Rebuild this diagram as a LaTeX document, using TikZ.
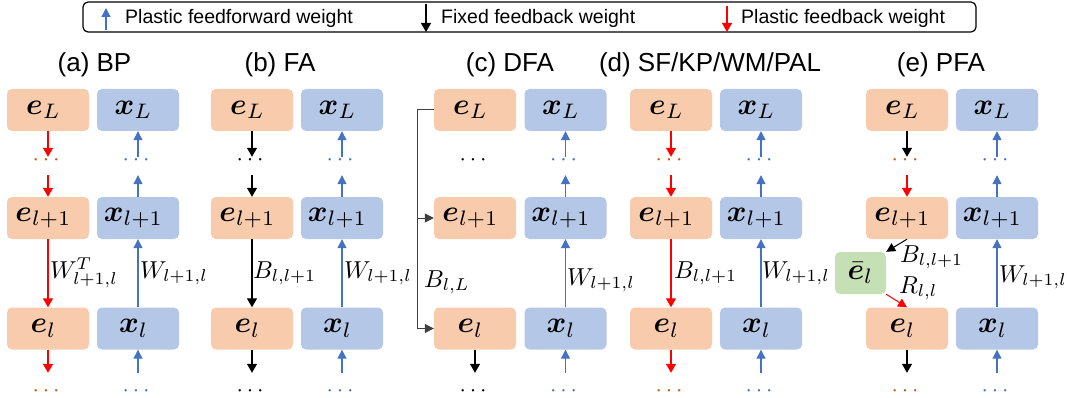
\documentclass[tikz,border=0pt]{standalone}
\usepackage{amsmath}
\usepackage{bm}
\usepackage{graphicx}
\usepackage{fontspec}
\newfontfamily\arialfont{Liberation Sans}
\usetikzlibrary{arrows.meta,calc}
\definecolor{eorange}{HTML}{F8CBAD}
\definecolor{xblue}{HTML}{B4C7E7}
\definecolor{ggreen}{HTML}{C5E0B4}
\definecolor{arrowblue}{HTML}{4472C4}
\definecolor{dotorange}{HTML}{C55A11}
\definecolor{dfagray}{HTML}{404040}
\newcommand{\boxlab}[1]{\hspace*{-9pt}\scalebox{3}{$#1$}}
\newcommand{\greenlab}[1]{\scalebox{3}{$#1$}}
\newcommand{\edgelab}[1]{\scalebox{2.45}{$#1$}}
\newcommand{\dotlab}{\scalebox{2.3}{$\cdots$}}
\begin{document}
\begin{tikzpicture}[x=1pt,y=-1pt,
  ebox/.style={rectangle, rounded corners=5pt, fill=eorange, minimum width=82pt, minimum height=42pt, inner sep=0pt},
  xbox/.style={rectangle, rounded corners=5pt, fill=xblue, minimum width=82pt, minimum height=42pt, inner sep=0pt},
  gbox/.style={rectangle, rounded corners=5pt, fill=ggreen, minimum width=51pt, minimum height=42pt, inner sep=0pt},
  topdots/.style={inner sep=0pt, text height=0pt, text depth=0pt, minimum width=20pt, minimum height=18pt},
  botdots/.style={inner sep=0pt, text height=0pt, text depth=0pt, minimum width=20pt, minimum height=47pt},
  lab/.style={anchor=base west, inner sep=0pt},
  ttl/.style={anchor=base, inner sep=0pt, font=\arialfont\fontsize{26pt}{30pt}\selectfont},
  legtxt/.style={anchor=base west, inner sep=0pt, font=\arialfont\fontsize{19.5pt}{22pt}\selectfont},
  ff/.style={draw=arrowblue, line width=1.2pt, -{Triangle[width=9pt,length=9pt]}},
  pfb/.style={draw=red, line width=1.3pt, -{Triangle[width=10pt,length=9pt]}},
  fb/.style={draw=black, line width=1.2pt, -{Triangle[width=10pt,length=9pt]}},
  fbthin/.style={draw=dfagray, line width=1pt, -{Triangle[width=9pt,length=9pt]}},
  pfbthin/.style={draw=red, line width=1pt, -{Triangle[width=9pt,length=9pt]}}
]
\useasboundingbox (0,0) rectangle (1067,398);

% legend
\node[draw=black, line width=1.2pt, rounded corners=5pt, minimum width=893pt, minimum height=30pt, inner sep=0pt] (legend) at (529.5,17) {};
\coordinate (lg1s) at (106,30);
\coordinate (lg1e) at (106,8);
\coordinate (lg2s) at (426,4);
\coordinate (lg2e) at (426,32);
\coordinate (lg3s) at (727,6);
\coordinate (lg3e) at (727,32);
\draw[ff] (lg1s) -- (lg1e);
\draw[fb] (lg2s) -- (lg2e);
\draw[pfb] (lg3s) -- (lg3e);
\node[legtxt] (lt1) at (125,23.5) {Plastic feedforward weight};
\node[legtxt] (lt2) at (441,23.5) {Fixed feedback weight};
\node[legtxt] (lt3) at (741,23.5) {Plastic feedback weight};

% titles
\node[ttl] (ta) at (94.5,71.5) {(a) BP};
\node[ttl] (tb) at (280,71.5) {(b) FA};
\node[ttl] (tc) at (510,71.5) {(c) DFA};
\node[ttl] (td) at (710,71.5) {(d) SF/KP/WM/PAL};
\node[ttl] (te) at (941,71.5) {(e) PFA};

% columns
\foreach \p/\ex/\xx/\dc in {a/48/138/dotorange, b/252/342/black, c/475/565.5/black, d/671/761/dotorange, e/907/997/dotorange}{
  \node[ebox] (\p-eL) at (\ex,110) {\boxlab{\bm{e}_L}};
  \node[ebox] (\p-e1) at (\ex,218) {\boxlab{\bm{e}_{l+1}}};
  \node[ebox] (\p-el) at (\ex,328.5) {\boxlab{\bm{e}_l}};
  \node[xbox] (\p-xL) at (\xx,110) {\boxlab{\bm{x}_L}};
  \node[xbox] (\p-x1) at (\xx,218) {\boxlab{\bm{x}_{l+1}}};
  \node[xbox] (\p-xl) at (\xx,328.5) {\boxlab{\bm{x}_l}};
  \node[topdots, text=\dc] (\p-ed) at (\ex,166) {\dotlab};
  \node[botdots, text=\dc] (\p-eb) at (\ex,396.5) {\dotlab};
  \node[topdots, text=arrowblue] (\p-xd) at (\xx,166) {\dotlab};
  \node[botdots, text=arrowblue] (\p-xb) at (\xx,396.5) {\dotlab};
  \draw[ff] (\p-xb) -- (\p-xl);
  \draw[ff] (\p-xl) -- (\p-x1);
  \draw[ff] (\p-x1) -- (\p-xd);
  \draw[ff] (\p-xd) -- (\p-xL);
}

% (a) BP
\draw[pfb] (a-eL) -- (a-ed);
\draw[pfb] (a-ed) -- (a-e1);
\draw[pfb] (a-e1) -- (a-el);
\draw[pfb] (a-el) -- (a-eb);
\node[lab] (a-B) at (50,278) {\edgelab{W^{T}_{l+1,l}}};
\node[lab] (a-W) at (140,278) {\edgelab{W_{l+1,l}}};

% (b) FA
\draw[fb] (b-eL) -- (b-ed);
\draw[fb] (b-ed) -- (b-e1);
\draw[fb] (b-e1) -- (b-el);
\draw[fb] (b-el) -- (b-eb);
\node[lab] (b-B) at (253,278) {\edgelab{B_{l,l+1}}};
\node[lab] (b-W) at (344,278) {\edgelab{W_{l+1,l}}};

% (c) DFA
\coordinate (c-turn) at ($(c-eL.west)+(-16,0)$);
\draw[fbthin] (c-eL.west) -- (c-turn) |- (c-el.west);
\draw[fbthin] (c-turn |- c-e1.west) -- (c-e1.west);
\draw[fb] (c-el) -- (c-eb);
\node[lab] (c-B) at (424,287) {\edgelab{B_{l,L}}};
\node[lab] (c-W) at (567,285) {\edgelab{W_{l+1,l}}};

% (d) SF/KP/WM/PAL
\draw[pfb] (d-eL) -- (d-ed);
\draw[pfb] (d-ed) -- (d-e1);
\draw[pfb] (d-e1) -- (d-el);
\draw[pfb] (d-el) -- (d-eb);
\node[lab] (d-B) at (674,278) {\edgelab{B_{l,l+1}}};
\node[lab] (d-W) at (762,278) {\edgelab{W_{l+1,l}}};

% (e) PFA
\node[gbox] (e-g) at (860.5,273) {\greenlab{\bar{\bm{e}}_l}};
\draw[fb] (e-eL) -- (e-ed);
\draw[pfb] (e-ed) -- (e-e1);
\draw[fbthin, draw=black] (e-e1.south) -- (e-g.north east);
\draw[pfbthin] (e-g.south east) -- (e-el.north);
\draw[fb] (e-el) -- (e-eb);
\node[lab] (e-B) at (900,262) {\edgelab{B_{l,l+1}}};
\node[lab] (e-R) at (899,293) {\edgelab{R_{l,l}}};
\node[lab] (e-W) at (999,282) {\edgelab{W_{l+1,l}}};
\end{tikzpicture}
\end{document}
